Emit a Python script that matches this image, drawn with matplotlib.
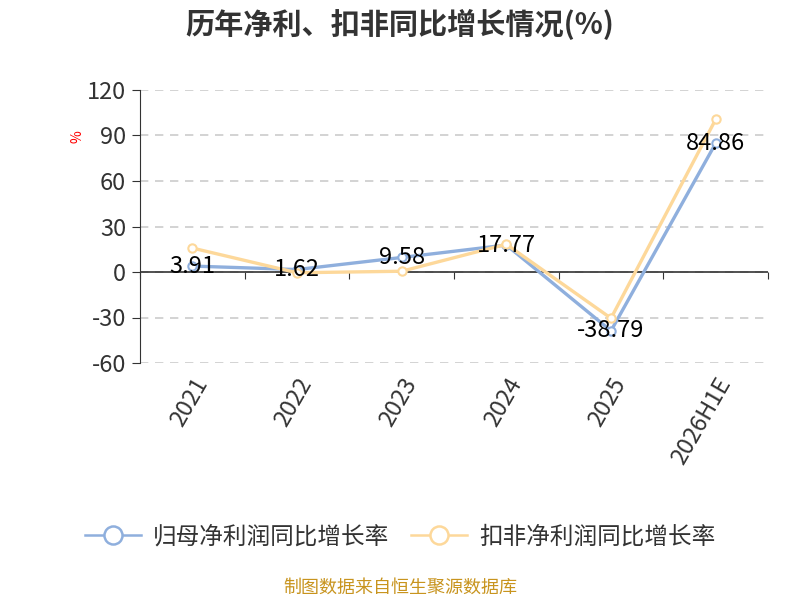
import matplotlib
matplotlib.use("Agg")
import matplotlib.pyplot as plt
from matplotlib.lines import Line2D
import numpy as np

plt.rcParams['font.family'] = ['Noto Sans CJK SC', 'DejaVu Sans']
plt.rcParams['axes.unicode_minus'] = False

# données
annees = ["2021", "2022", "2023", "2024", "2025", "2026H1E"]
gui_mu = [3.91, 1.62, 9.58, 17.77, -38.79, 84.86]
kou_fei = [15.8, -0.5, 0.5, 18.3, -30.5, 100.6]
y_ticks = [-60, -30, 0, 30, 60, 90, 120]
noms = ["归母净利润同比增长率", "扣非净利润同比增长率"]

bleu = "#8fafdd"
orange = "#fdd89a"

fig = plt.figure(figsize=(8, 6), dpi=100)
ax = fig.add_axes([0.175, 0.395, 0.785, 0.455])

x = np.arange(len(annees))
ax.plot(x, gui_mu, color=bleu, lw=2.4, marker="o", ms=6, mfc="white",
        mec=bleu, mew=1.5, zorder=3)
ax.plot(x, kou_fei, color=orange, lw=2.4, marker="o", ms=6, mfc="white",
        mec=orange, mew=1.5, zorder=4)

# étiquettes des valeurs
for xi, v in zip(x, gui_mu):
    ax.text(xi, v, f"{v:.2f}", ha="center", va="center", fontsize=17,
            color="black", zorder=5)

ax.set_xlim(-0.5, len(annees) - 0.5)
ax.set_ylim(-60, 120)
ax.set_yticks(y_ticks)
ax.tick_params(axis="y", labelsize=17, labelcolor="#333333", length=6,
               color="#333333", pad=4)
ax.grid(axis="y", ls=(0, (5, 4)), color="#cccccc", lw=1.2)
ax.set_axisbelow(True)

ax.set_xticks(x)
ax.set_xticklabels(annees, rotation=60, ha="right", rotation_mode="anchor",
                   fontsize=17, color="#333333")
ax.tick_params(axis="x", length=0, pad=8)

for s in ["top", "right", "bottom"]:
    ax.spines[s].set_visible(False)
ax.spines["left"].set_color("#333333")

# axe horizontal en zéro avec graduations aux frontières
ax.axhline(0, color="#333333", lw=1.2, zorder=2)
sec = ax.secondary_xaxis(0, transform=ax.transData)
sec.set_xticks(np.arange(len(annees) + 1) - 0.5)
sec.set_xticklabels([])
sec.tick_params(length=5, color="#333333")
sec.spines["bottom"].set_visible(False)

ax.text(-0.1, 0.83, "%", transform=ax.transAxes, rotation=90, color="red",
        fontsize=10, ha="center", va="center")

fig.suptitle("历年净利、扣非同比增长情况(%)", x=0.5, y=0.985,
             fontsize=21, fontweight="bold", color="#333333")

poignees = [Line2D([], [], color=c, lw=1.8, marker="o", ms=13, mfc="white",
                   mec=c, mew=1.8) for c in (bleu, orange)]
fig.legend(poignees, noms, loc="center", bbox_to_anchor=(0.5, 0.105),
           ncol=2, frameon=False, fontsize=17, labelcolor="#333333",
           handlelength=2.4, handletextpad=0.5, columnspacing=0.9)

fig.text(0.5, 0.02, "制图数据来自恒生聚源数据库", ha="center", va="center",
         fontsize=13, color="#c8941e")

fig.savefig("out.png", dpi=100)
